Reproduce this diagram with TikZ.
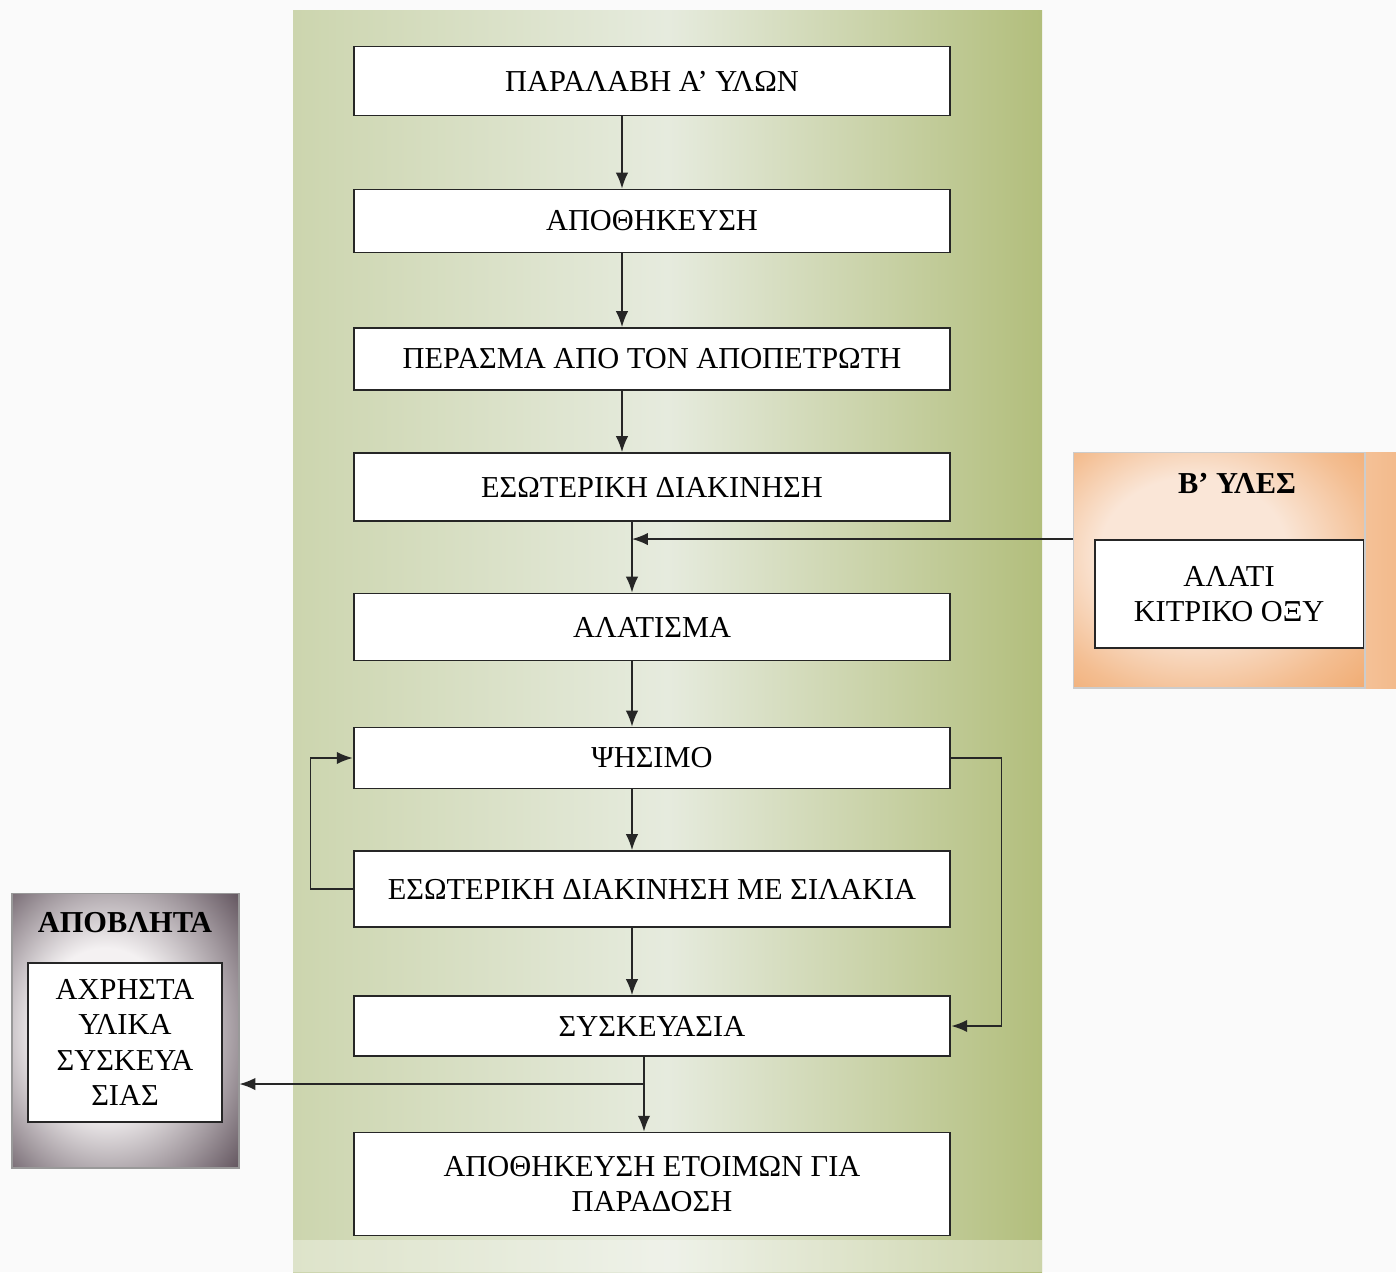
\documentclass[tikz,border=0pt]{standalone}
\usepackage{fontspec}
\setmainfont{Liberation Serif}
\usetikzlibrary{arrows.meta}
\definecolor{oliveL}{RGB}{204,213,174}
\definecolor{oliveM}{RGB}{230,235,222}
\definecolor{oliveR}{RGB}{178,190,124}
\definecolor{peach}{RGB}{250,230,215}
\definecolor{amber}{RGB}{240,168,108}
\definecolor{mauveD}{RGB}{92,78,88}
\definecolor{mauveL}{RGB}{244,241,242}
\pgfdeclareradialshading{peachglow}{\pgfpoint{-6bp}{5bp}}{color(0bp)=(peach); color(16bp)=(peach); color(30bp)=(amber!65!peach); color(40bp)=(amber); color(60bp)=(amber)}
\pgfdeclareradialshading{greyglow}{\pgfpoint{-6bp}{0bp}}{color(0bp)=(mauveL); color(15bp)=(mauveL); color(28bp)=(mauveD!55!mauveL); color(38bp)=(mauveD); color(60bp)=(mauveD)}
\begin{document}
\begin{tikzpicture}[x=0.02cm, y=-0.02cm, >={Latex[length=9pt,width=7pt]},
  stage/.style={draw=black!85, line width=1.1pt, fill=white, minimum width=11.94cm,
    font=\fontsize{17.3}{20}\selectfont, align=center, inner sep=0pt},
  sidebox/.style={draw=black!85, line width=1.1pt, fill=white,
    font=\fontsize{17.3}{20}\selectfont, align=center, inner sep=0pt},
  panel/.style={draw=black!20, line width=.6pt, inner sep=0pt},
  flow/.style={->, line width=0.8pt, draw=black!85}]
\useasboundingbox (0,0) rectangle (1396,1272);
\fill[gray!4] (0,0) rectangle (1396,1272);
% main panel
\shade[left color=oliveL, right color=oliveR, middle color=oliveM] (293,10) rectangle (1042,1272);
\fill[white, opacity=.35] (293,1240) rectangle (1042,1272);

\coordinate (colA) at (622,0);
\coordinate (colB) at (632,0);
\coordinate (colC) at (644,0);
\coordinate (split) at (644,1084);

\node[stage, minimum height=1.38cm] (recv) at (652,81) {ΠΑΡΑΛΑΒΗ Α’ ΥΛΩΝ};
\node[stage, minimum height=1.26cm] (store) at (652,221) {ΑΠΟΘΗΚΕΥΣΗ};
\node[stage, minimum height=1.24cm] (stoner) at (652,359) {ΠΕΡΑΣΜΑ ΑΠΟ ΤΟΝ ΑΠΟΠΕΤΡΩΤΗ};
\node[stage, minimum height=1.36cm] (move) at (652,487) {ΕΣΩΤΕΡΙΚΗ ΔΙΑΚΙΝΗΣΗ};
\node[stage, minimum height=1.34cm] (salt) at (652,627) {ΑΛΑΤΙΣΜΑ};
\node[stage, minimum height=1.22cm] (roast) at (652,758) {ΨΗΣΙΜΟ};
\node[stage, minimum height=1.52cm] (silo) at (652,889) {ΕΣΩΤΕΡΙΚΗ ΔΙΑΚΙΝΗΣΗ ΜΕ ΣΙΛΑΚΙΑ};
\node[stage, minimum height=1.20cm] (pack) at (652,1026) {ΣΥΣΚΕΥΑΣΙΑ};
\node[stage, minimum height=2.06cm] (ready) at (652,1184) {ΑΠΟΘΗΚΕΥΣΗ ΕΤΟΙΜΩΝ ΓΙΑ\\ΠΑΡΑΔΟΣΗ};

% B' yles
\shade[left color=amber!60!peach, right color=amber!70!peach] (1365,452) rectangle (1396,688);
\node[panel, shading=peachglow, minimum width=5.84cm, minimum height=4.72cm] (subpanel) at (1219,570) {};
\node[font=\fontsize{17.3}{20}\selectfont\bfseries] (subtitle) at (1237,483) {Β’ ΥΛΕΣ};
\node[sidebox, minimum width=5.38cm, minimum height=2.16cm] (additives) at (1229,594) {ΑΛΑΤΙ\\ΚΙΤΡΙΚΟ ΟΞΥ};

% waste
\node[panel, draw=black!40, shading=greyglow, minimum width=4.54cm, minimum height=5.5cm] (wastepanel) at (125.5,1030.5) {};
\node[font=\fontsize{17.3}{20}\selectfont\bfseries] (wastetitle) at (125,923) {ΑΠΟΒΛΗΤΑ};
\node[sidebox, minimum width=3.88cm, minimum height=3.18cm] (wastebox) at (125,1042.5) {ΑΧΡΗΣΤΑ\\ΥΛΙΚΑ\\ΣΥΣΚΕΥΑ\\ΣΙΑΣ};

% flow
\draw[flow] (recv.south -| colA) -- (store.north -| colA);
\draw[flow] (store.south -| colA) -- (stoner.north -| colA);
\draw[flow] (stoner.south -| colA) -- (move.north -| colA);
\draw[flow] (move.south -| colB) -- (salt.north -| colB);
\draw[flow] (subpanel.west |- additives.north) -- (additives.north -| colB);
\draw[flow] (salt.south -| colB) -- (roast.north -| colB);
\draw[flow] (roast.south -| colB) -- (silo.north -| colB);
\draw[flow] (silo.south -| colB) -- (pack.north -| colB);
\draw[flow] (silo.west) -- ++(-42,0) |- (roast.west);
\draw[flow] (roast.east) -- ++(50,0) |- (pack.east);
\draw[flow] (pack.south -| colC) -- (ready.north -| colC);
\draw[flow] (split) -- (split -| wastepanel.east);
\end{tikzpicture}
\end{document}
